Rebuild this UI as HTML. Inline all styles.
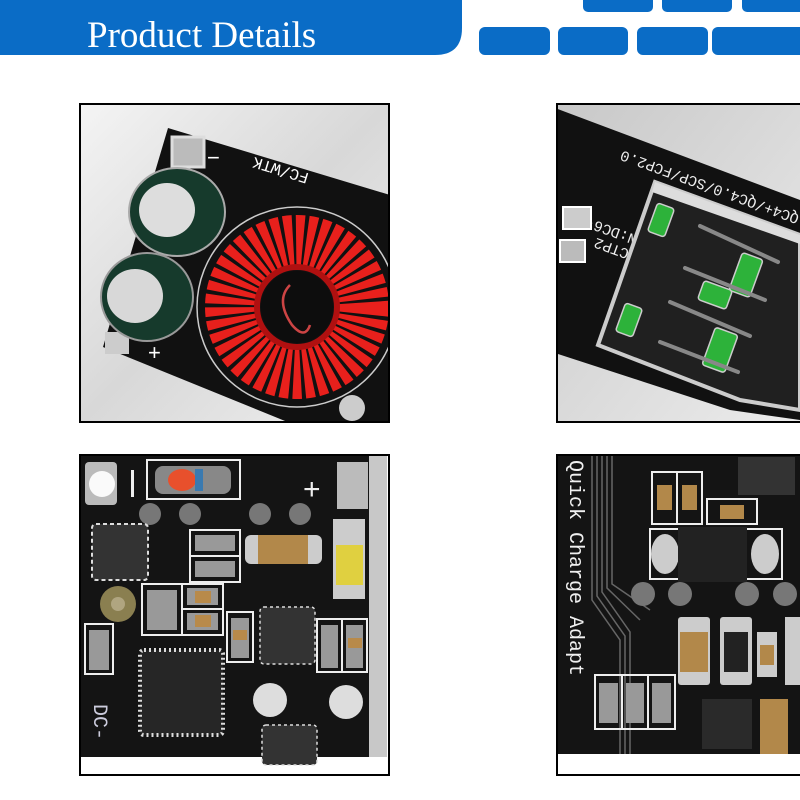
<!DOCTYPE html>
<html><head><meta charset="utf-8"><style>
html,body{margin:0;padding:0;background:#fff;}
svg{display:block;}
</style></head><body>
<svg width="800" height="800" viewBox="0 0 800 800" xmlns="http://www.w3.org/2000/svg">
<defs>
<linearGradient id="bgL" x1="0" y1="0" x2="1" y2="1"><stop offset="0" stop-color="#f4f4f4"/><stop offset="0.5" stop-color="#d8d8d8"/><stop offset="1" stop-color="#f0f0f0"/></linearGradient>
<linearGradient id="bgR" x1="0" y1="0" x2="1" y2="1"><stop offset="0" stop-color="#c8c8c8"/><stop offset="1" stop-color="#ececec"/></linearGradient>
<linearGradient id="usb" x1="0" y1="0" x2="1" y2="1"><stop offset="0" stop-color="#d9d9d9"/><stop offset="0.3" stop-color="#2a2a2a"/><stop offset="1" stop-color="#1a1a1a"/></linearGradient>
<clipPath id="c1"><rect x="81" y="105" width="307" height="316"/></clipPath>
<clipPath id="c2"><rect x="558" y="105" width="242" height="316"/></clipPath>
<clipPath id="c3"><rect x="81" y="456" width="307" height="317"/></clipPath>
<clipPath id="c4"><rect x="558" y="456" width="242" height="317"/></clipPath>
</defs>

<!-- Header banner -->
<path d="M0 0 H462 V28 Q462 55 435 55 H0 Z" fill="#0a6cc6"/>
<text x="87" y="47" font-family="Liberation Serif, serif" font-size="37" fill="#fff">Product Details</text>
<g fill="#0a6cc6">
<rect x="583" y="-6" width="70" height="18" rx="5"/>
<rect x="662" y="-6" width="70" height="18" rx="5"/>
<rect x="742" y="-6" width="70" height="18" rx="5"/>
<rect x="479" y="27" width="71" height="28" rx="6"/>
<rect x="558" y="27" width="70" height="28" rx="6"/>
<rect x="637" y="27" width="71" height="28" rx="6"/>
<rect x="712" y="27" width="100" height="28" rx="6"/>
</g>

<!-- Photo 1 -->
<rect x="80" y="104" width="309" height="318" fill="url(#bgL)" stroke="#000" stroke-width="2"/>
<g clip-path="url(#c1)">
<polygon points="168,128 390,195 390,423 290,423 103,347" fill="#111"/>
<rect x="172" y="137" width="32" height="30" fill="#bbb" stroke="#ddd" stroke-width="3"/>
<rect x="105" y="332" width="24" height="22" fill="#ccc"/>
<text x="148" y="360" font-family="Liberation Sans, sans-serif" font-size="22" fill="#fff">+</text>
<text x="207" y="165" font-family="Liberation Sans, sans-serif" font-size="22" fill="#fff">−</text>
<text x="385" y="205" font-family="Liberation Mono, monospace" font-size="16" fill="#fff" transform="rotate(197 345 195)">FC/WTK</text>
<ellipse cx="177" cy="212" rx="48" ry="44" fill="#163a2c" stroke="#aaa" stroke-width="2"/>
<ellipse cx="167" cy="210" rx="28" ry="27" fill="#ddd"/>
<ellipse cx="147" cy="297" rx="46" ry="44" fill="#163a2c" stroke="#999" stroke-width="2"/>
<ellipse cx="135" cy="296" rx="28" ry="27" fill="#d8d8d8"/>
<circle cx="297" cy="307" r="100" fill="none" stroke="#ccc" stroke-width="1.5"/>
<circle cx="297" cy="307" r="66" fill="none" stroke="#e8201c" stroke-width="52" stroke-dasharray="7 3"/>
<circle cx="297" cy="307" r="40" fill="none" stroke="#b01010" stroke-width="6"/>
<circle cx="297" cy="307" r="36" fill="#0d0d0d"/>
<path d="M290 285 Q275 300 292 325 Q305 340 310 325" fill="none" stroke="#c44" stroke-width="2.5"/>
<circle cx="352" cy="408" r="13" fill="#ccc"/>
</g>

<!-- Photo 2 -->
<rect x="557" y="104" width="250" height="318" fill="url(#bgR)" stroke="#000" stroke-width="2"/>
<g clip-path="url(#c2)">
<polygon points="555,108 800,200 800,420 730,410 555,353" fill="#111"/>
<g font-family="Liberation Mono, monospace" font-size="15" fill="#eee">
<text transform="translate(800,215) rotate(200)">QC4+/QC4.0/SCP/FCP2.0</text>
<text transform="translate(655,242) rotate(200)">VIN:DC6-</text>
<text transform="translate(630,250) rotate(200)">CTP2</text>
</g>
<rect x="563" y="207" width="28" height="22" fill="#ccc" stroke="#fff" stroke-width="2"/>
<rect x="560" y="240" width="25" height="22" fill="#bbb" stroke="#fff" stroke-width="2"/>
<polygon points="655,182 800,235 800,410 740,400 598,345" fill="#202020" stroke="#ccc" stroke-width="4"/>
<polygon points="655,182 800,235 800,244 652,192" fill="#ddd"/>
<g fill="#2db23a" stroke="#ccc" stroke-width="1.5">
<rect x="652" y="205" width="18" height="30" rx="3" transform="rotate(20 661 220)"/>
<rect x="620" y="305" width="18" height="30" rx="3" transform="rotate(20 629 320)"/>
<rect x="735" y="255" width="22" height="40" rx="3" transform="rotate(20 746 275)"/>
<rect x="700" y="285" width="30" height="20" rx="3" transform="rotate(20 715 295)"/>
<rect x="708" y="330" width="24" height="40" rx="3" transform="rotate(20 720 350)"/>
</g>
<g stroke="#888" stroke-width="4" fill="none" stroke-linecap="round">
<line x1="700" y1="226" x2="778" y2="262"/>
<line x1="685" y1="268" x2="765" y2="300"/>
<line x1="670" y1="302" x2="750" y2="336"/>
<line x1="660" y1="342" x2="738" y2="372"/>
</g>
</g>

<!-- Photo 3 -->
<rect x="80" y="455" width="309" height="320" fill="#fff" stroke="#000" stroke-width="2"/>
<g clip-path="url(#c3)">
<rect x="81" y="456" width="288" height="301" fill="#141414"/>
<rect x="369" y="456" width="18" height="301" fill="#c8c8c8"/>
<rect x="85" y="462" width="32" height="43" rx="4" fill="#bbb"/>
<circle cx="102" cy="484" r="13" fill="#fafafa"/>
<rect x="131" y="470" width="3" height="27" fill="#eee"/>
<rect x="147" y="460" width="93" height="39" fill="none" stroke="#eee" stroke-width="2"/>
<rect x="155" y="466" width="76" height="28" rx="8" fill="#888"/>
<ellipse cx="182" cy="480" rx="14" ry="11" fill="#e8502c"/>
<rect x="195" y="469" width="8" height="22" fill="#3a7ab0"/>
<text x="303" y="499" font-family="Liberation Sans, sans-serif" font-size="30" fill="#eee">+</text>
<rect x="337" y="462" width="31" height="47" fill="#bbb"/>
<g fill="#777"><circle cx="150" cy="514" r="11"/><circle cx="190" cy="514" r="11"/><circle cx="260" cy="514" r="11"/><circle cx="300" cy="514" r="11"/></g>
<rect x="92" y="524" width="56" height="56" rx="4" fill="#333" stroke="#ddd" stroke-width="2" stroke-dasharray="4 3"/>
<g fill="none" stroke="#eee" stroke-width="2">
<rect x="190" y="530" width="50" height="26"/><rect x="190" y="556" width="50" height="26"/>
<rect x="142" y="584" width="40" height="51"/><rect x="182" y="584" width="41" height="25"/><rect x="182" y="609" width="41" height="26"/>
<rect x="227" y="612" width="26" height="50"/>
<rect x="317" y="619" width="25" height="53"/><rect x="342" y="619" width="25" height="53"/>
<rect x="85" y="624" width="28" height="50"/>
</g>
<g fill="#999"><rect x="195" y="535" width="40" height="16"/><rect x="195" y="561" width="40" height="16"/><rect x="147" y="590" width="30" height="40"/><rect x="187" y="588" width="31" height="17"/><rect x="187" y="613" width="31" height="17"/><rect x="231" y="618" width="18" height="40"/><rect x="321" y="625" width="17" height="43"/><rect x="346" y="625" width="17" height="43"/><rect x="89" y="630" width="20" height="40"/></g>
<g fill="#b88a4a"><rect x="195" y="591" width="16" height="12"/><rect x="195" y="615" width="16" height="12"/><rect x="233" y="630" width="14" height="10"/><rect x="348" y="638" width="14" height="10"/></g>
<rect x="245" y="535" width="77" height="29" rx="6" fill="#ccc"/>
<rect x="258" y="535" width="50" height="29" fill="#b2884a"/>
<rect x="333" y="519" width="32" height="80" fill="#ccc"/>
<rect x="336" y="545" width="27" height="40" fill="#e0d040"/>
<circle cx="118" cy="604" r="18" fill="#8a7f50"/><circle cx="118" cy="604" r="7" fill="#b0a580"/>
<rect x="260" y="607" width="55" height="57" rx="4" fill="#333" stroke="#ddd" stroke-width="1.5" stroke-dasharray="3 3"/>
<rect x="140" y="650" width="83" height="85" rx="4" fill="#262626" stroke="#ddd" stroke-width="4" stroke-dasharray="2 3"/>
<circle cx="270" cy="700" r="17" fill="#ddd"/><circle cx="346" cy="702" r="17" fill="#ddd"/>
<rect x="262" y="725" width="55" height="40" rx="4" fill="#333" stroke="#ddd" stroke-width="1.5" stroke-dasharray="3 3"/>
<text transform="translate(94,704) rotate(90)" font-family="Liberation Mono, monospace" font-size="20" fill="#ccd">DC-</text>
</g>

<!-- Photo 4 -->
<rect x="557" y="455" width="250" height="320" fill="#fff" stroke="#000" stroke-width="2"/>
<g clip-path="url(#c4)">
<rect x="558" y="456" width="242" height="298" fill="#141414"/>
<g stroke="#666" stroke-width="1.5" fill="none">
<path d="M592 456 V600 L620 640 V754"/><path d="M597 456 V596 L625 636 V754"/><path d="M602 456 V592 L630 632 V754"/><path d="M607 456 V588 L640 620"/><path d="M612 456 V584 L650 610"/>
</g>
<text transform="translate(570,460) rotate(90)" font-family="Liberation Mono, monospace" font-size="20" fill="#f0f0f0">Quick Charge Adapt</text>
<rect x="738" y="457" width="57" height="38" fill="#333"/>
<g fill="none" stroke="#eee" stroke-width="2">
<rect x="652" y="472" width="25" height="52"/><rect x="677" y="472" width="25" height="52"/>
<rect x="707" y="499" width="50" height="25"/>
<rect x="650" y="529" width="132" height="50"/>
<rect x="595" y="675" width="27" height="54"/><rect x="622" y="675" width="26" height="54"/><rect x="648" y="675" width="27" height="54"/>
</g>
<g fill="#b2884a"><rect x="657" y="485" width="15" height="25"/><rect x="682" y="485" width="15" height="25"/><rect x="720" y="505" width="24" height="14"/></g>
<ellipse cx="665" cy="554" rx="14" ry="20" fill="#ccc"/><ellipse cx="765" cy="554" rx="14" ry="20" fill="#ccc"/>
<rect x="678" y="527" width="69" height="55" fill="#222"/>
<g fill="#777"><circle cx="643" cy="594" r="12"/><circle cx="680" cy="594" r="12"/><circle cx="747" cy="594" r="12"/><circle cx="785" cy="594" r="12"/></g>
<rect x="678" y="617" width="32" height="68" rx="3" fill="#ccc"/><rect x="680" y="632" width="28" height="40" fill="#b2884a"/>
<rect x="720" y="617" width="32" height="68" rx="3" fill="#ccc"/><rect x="724" y="632" width="24" height="40" fill="#222"/>
<rect x="757" y="632" width="20" height="45" fill="#ccc"/><rect x="760" y="645" width="14" height="20" fill="#b2884a"/>
<rect x="785" y="617" width="20" height="68" fill="#ccc"/>
<g fill="#999"><rect x="599" y="683" width="19" height="40"/><rect x="626" y="683" width="18" height="40"/><rect x="652" y="683" width="19" height="40"/></g>
<rect x="702" y="699" width="50" height="50" fill="#2a2a2a"/>
<rect x="760" y="699" width="28" height="55" fill="#b2884a"/>
</g>
</svg>
</body></html>
